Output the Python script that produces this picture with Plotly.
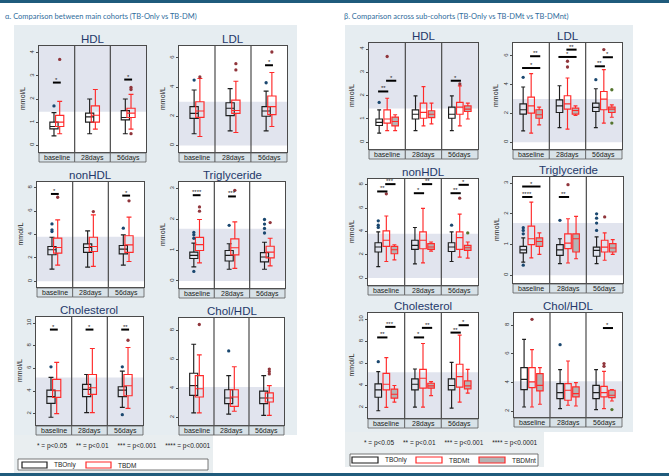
import plotly.graph_objects as go

W, H = 669, 476
TIMES = ["baseline", "28days", "56days"]
GROUPS_A = ["TBOnly", "TBDM"]
GROUPS_B = ["TBOnly", "TBDMt", "TBDMnt"]

# ---- box statistics: per timepoint (lower whisker, q1, median, q3, upper whisker)
A_HDL = {"TBOnly": [(0.41, 0.71, 0.81, 1.00, 1.41), (0.50, 1.00, 1.23, 1.39, 2.00), (0.50, 1.10, 1.20, 1.50, 2.00)],
         "TBDM":   [(0.50, 0.81, 1.00, 1.29, 1.90), (0.70, 1.00, 1.30, 1.70, 2.41), (0.70, 1.20, 1.39, 1.60, 2.20)]}
A_HDL_OUT = {"TBOnly": [[1.70], [], []], "TBDM": [[3.71], [], [2.50, 2.41, 0.50]]}
A_HDL_SIG = [(0, 0, 1, 2.71, "*"), (2, 0, 1, 2.84, "*")]

A_LDL = {"TBOnly": [(0.80, 1.86, 2.20, 2.66, 3.80), (1.00, 2.05, 2.55, 2.93, 3.90), (1.00, 2.00, 2.36, 2.66, 3.73)],
         "TBDM":   [(0.61, 1.93, 2.36, 3.00, 4.59), (0.89, 2.20, 2.40, 3.11, 4.40), (1.30, 2.11, 2.66, 3.39, 5.00)]}
A_LDL_OUT = {"TBOnly": [[4.48], [], [4.30]], "TBDM": [[4.70], [5.18, 5.61], [6.41]]}
A_LDL_SIG = [(2, 0, 1, 5.50, "*")]

A_NONHDL = {"TBOnly": [(1.05, 2.27, 2.70, 2.98, 3.77), (1.22, 2.47, 2.89, 3.20, 4.31), (1.39, 2.35, 2.75, 3.06, 3.97)],
            "TBDM":   [(1.39, 2.41, 2.89, 3.69, 5.25), (1.28, 2.55, 2.98, 3.77, 5.67), (1.70, 2.47, 3.12, 3.89, 5.48)]}
A_NONHDL_OUT = {"TBOnly": [[4.25, 4.40, 4.90], [], [4.54]], "TBDM": [[7.18], [5.96], [6.87]]}
A_NONHDL_SIG = [(0, 0, 1, 7.46, "*"), (2, 0, 1, 7.32, "*")]

A_TRIG = {"TBOnly": [(0.46, 0.73, 0.83, 0.94, 1.23), (0.38, 0.65, 0.83, 0.99, 1.21), (0.38, 0.62, 0.78, 0.92, 1.26)],
          "TBDM":   [(0.59, 0.99, 1.18, 1.42, 2.00), (0.41, 0.85, 1.08, 1.37, 1.92), (0.49, 0.75, 0.94, 1.13, 1.39)]}
A_TRIG_OUT = {"TBOnly": [[0.31, 1.39, 1.50, 1.58], [1.81], [1.56, 1.71, 1.85, 2.00]], "TBDM": [[2.27, 2.41], [2.95], [1.90]]}
A_TRIG_SIG = [(0, 0, 1, 2.79, "****"), (1, 0, 1, 2.75, "***")]

A_CHOL = {"TBOnly": [(1.68, 2.91, 3.50, 4.08, 5.20), (2.09, 3.50, 4.14, 4.58, 5.46), (2.56, 3.50, 4.08, 4.38, 5.75)],
          "TBDM":   [(2.00, 3.44, 4.02, 5.02, 6.52), (2.09, 3.70, 4.29, 5.46, 7.75), (2.47, 3.58, 4.46, 5.46, 7.84)]}
A_CHOL_OUT = {"TBOnly": [[6.13], [], [6.13, 1.91]], "TBDM": [[], [], [8.48]]}
A_CHOL_SIG = [(0, 0, 1, 9.42, "*"), (1, 0, 1, 9.42, "*"), (2, 0, 1, 9.42, "**")]

A_CHOLHDL = {"TBOnly": [(2.32, 3.52, 4.20, 5.05, 7.05), (2.23, 2.95, 3.34, 3.91, 4.89), (2.14, 2.95, 3.34, 3.82, 4.89)],
             "TBDM":   [(2.32, 3.41, 3.98, 4.89, 6.32), (2.43, 2.77, 3.41, 3.91, 5.50), (2.14, 3.07, 3.34, 3.70, 4.20)]}
A_CHOLHDL_OUT = {"TBOnly": [[], [6.59], []], "TBDM": [[8.41], [], [5.00, 5.17, 5.34]]}
A_CHOLHDL_SIG = []

B_HDL = {"TBOnly": [(0.39, 0.72, 0.85, 1.00, 1.39), (0.50, 1.00, 1.20, 1.39, 1.99), (0.50, 1.03, 1.20, 1.51, 1.99)],
         "TBDMt":  [(0.50, 0.82, 1.00, 1.39, 1.89), (0.70, 1.03, 1.28, 1.68, 2.39), (0.70, 1.20, 1.51, 1.71, 2.42)],
         "TBDMnt": [(0.50, 0.70, 0.89, 1.08, 1.18), (0.79, 1.06, 1.20, 1.35, 1.68), (1.00, 1.32, 1.42, 1.56, 1.68)]}
B_HDL_OUT = {"TBOnly": [[1.71], [], []], "TBDMt": [[3.68], [], [2.50]], "TBDMnt": [[], [], []]}
B_HDL_SIG = [(0, 0, 1, 2.18, "**"), (0, 1, 2, 2.64, "*"), (2, 0, 1, 2.64, "*")]

B_LDL = {"TBOnly": [(0.79, 1.95, 2.26, 2.67, 3.84), (1.02, 2.07, 2.53, 2.95, 3.93), (1.02, 2.14, 2.42, 2.72, 3.72)],
         "TBDMt":  [(0.63, 2.02, 2.53, 3.14, 4.77), (0.91, 2.30, 2.67, 3.23, 4.47), (1.33, 2.26, 3.00, 3.53, 5.05)],
         "TBDMnt": [(1.21, 1.67, 1.91, 2.26, 2.44), (1.86, 1.95, 2.21, 2.37, 2.53), (1.74, 2.07, 2.30, 2.44, 2.60)]}
B_LDL_OUT = {"TBOnly": [[4.51], [], [4.35]], "TBDMt": [[], [5.23, 5.63], [6.44]], "TBDMnt": [[], [], [1.33, 3.65]]}
B_LDL_SIG = [(0, 0, 2, 5.16, "*"), (0, 1, 2, 5.98, "**"), (1, 0, 2, 5.93, "*"), (1, 1, 2, 6.44, "**"),
             (2, 0, 1, 5.28, "**"), (2, 1, 2, 5.91, "*")]

B_NONHDL = {"TBOnly": [(0.98, 2.23, 2.66, 3.03, 3.96), (1.21, 2.46, 2.80, 3.24, 4.34), (1.42, 2.28, 2.66, 3.03, 3.96)],
            "TBDMt":  [(1.42, 2.72, 3.24, 4.05, 5.32), (1.30, 2.51, 3.24, 3.96, 5.98), (1.79, 2.46, 3.47, 3.96, 5.49)],
            "TBDMnt": [(1.56, 2.08, 2.43, 2.72, 2.86), (2.31, 2.46, 2.66, 2.95, 3.09), (1.71, 2.37, 2.60, 2.80, 3.09)]}
B_NONHDL_OUT = {"TBOnly": [[4.34, 4.54, 4.91], [], [4.54]], "TBDMt": [[7.23], [], [6.85]], "TBDMnt": [[], [], [3.87]]}
B_NONHDL_SIG = [(0, 0, 1, 7.43, "**"), (0, 1, 2, 8.06, "***"), (1, 0, 1, 7.28, "*"), (1, 1, 2, 8.06, "**"),
                (2, 0, 1, 7.28, "**"), (2, 1, 2, 8.00, "*")]

B_TRIG = {"TBOnly": [(0.43, 0.73, 0.83, 0.94, 1.22), (0.38, 0.65, 0.83, 1.00, 1.19), (0.38, 0.62, 0.81, 0.92, 1.25)],
          "TBDMt":  [(0.57, 1.00, 1.19, 1.60, 2.38), (0.40, 0.87, 1.05, 1.35, 1.84), (0.49, 0.76, 0.92, 1.14, 1.38)],
          "TBDMnt": [(0.68, 0.94, 1.10, 1.22, 1.38), (0.54, 0.76, 1.19, 1.35, 1.92), (0.68, 0.76, 0.89, 1.03, 1.16)]}
B_TRIG_OUT = {"TBOnly": [[0.33, 1.35, 1.46, 1.55], [1.79], [1.46, 1.70, 1.86, 2.00]], "TBDMt": [[], [2.95], [1.90]],
              "TBDMnt": [[], [], []]}
B_TRIG_SIG = [(0, 0, 1, 2.55, "****"), (0, 0, 2, 2.89, "*"), (1, 0, 1, 2.55, "**")]

B_CHOL = {"TBOnly": [(1.70, 2.93, 3.60, 4.14, 5.25), (2.03, 3.60, 4.11, 4.59, 5.49), (1.94, 3.60, 3.99, 4.59, 6.10)],
          "TBDMt":  [(2.00, 3.60, 4.11, 5.10, 6.52), (2.03, 3.75, 4.65, 5.46, 7.81), (2.48, 3.84, 4.80, 5.92, 8.57)],
          "TBDMnt": [(2.48, 2.84, 3.20, 3.66, 3.99), (3.08, 3.75, 3.96, 4.20, 4.35), (3.30, 3.69, 3.96, 4.41, 5.46)]}
B_CHOL_OUT = {"TBOnly": [[6.16], [], []], "TBDMt": [[], [], []], "TBDMnt": [[], [], []]}
B_CHOL_SIG = [(0, 0, 1, 8.36, "**"), (0, 1, 2, 9.32, "***"), (1, 0, 1, 8.36, "*"), (1, 1, 2, 9.23, "**"),
              (2, 0, 1, 8.80, "**"), (2, 1, 2, 9.47, "*")]

B_CHOLHDL = {"TBOnly": [(2.30, 3.51, 4.23, 5.05, 7.02), (2.19, 2.88, 3.30, 3.93, 4.91), (2.12, 2.88, 3.30, 3.81, 4.91)],
             "TBDMt":  [(2.30, 3.65, 4.05, 5.05, 6.30), (2.42, 2.77, 3.47, 3.93, 5.51), (2.19, 3.00, 3.30, 3.74, 4.79)],
             "TBDMnt": [(2.49, 3.42, 3.81, 4.63, 5.05), (2.37, 3.00, 3.23, 3.70, 4.00), (2.72, 2.95, 3.12, 3.47, 3.51)]}
B_CHOLHDL_OUT = {"TBOnly": [[], [6.65], []], "TBDMt": [[8.42], [], [5.14, 5.33]], "TBDMnt": [[], [], [2.12]]}
B_CHOLHDL_SIG = [(2, 1, 2, 7.81, "*")]

# reference (shaded) ranges
REF_HDL = (1.45, 99)
REF_LDL = (0, 3.0)
REF_NONHDL = (0, 3.8)
REF_TRIG = (0, 1.7)
REF_CHOL = (0, 5.2)
REF_CHOLHDL = (0, 4.1)

PVAL_TEXT = "* = p<0.05     ** = p<0.01     *** = p<0.001     **** = p<0.0001"
SECTION_A = "α. Comparison between main cohorts (TB-Only vs TB-DM)"
SECTION_B = "β. Comparison across sub-cohorts (TB-Only vs TB-DMt vs TB-DMnt)"

# ---- styling
LINE = {"TBOnly": "#1e1e1e", "TBDM": "#ff2a2a", "TBDMt": "#ff2a2a", "TBDMnt": "#ff2a2a"}
FILL = {"TBOnly": "rgba(255,255,255,0)", "TBDM": "rgba(255,255,255,0)", "TBDMt": "rgba(255,255,255,0)",
        "TBDMnt": "#b4b4b4"}
OUTC = {"TBOnly": "#1a476f", "TBDM": "#90353b", "TBDMt": "#90353b", "TBDMnt": "#55752f"}
SPREAD = {2: 0.16, 3: 0.22}      # group centre offset (in facet units)
BOXW = {2: 0.23, 3: 0.18}        # box width (in facet units)
FONT = "Liberation Sans, Arial, sans-serif"
AXC = "#4a4a4a"
BAND = "#e1e4ee"
BG = "#e6edf1"
TITLEC = "#24386a"

# panel list: (title, stats, outliers, sigs, groups, y range, y ticks, ref band, pixel box x0,x1,y0,y1, y title)
PANELS = [
    ("HDL", A_HDL, A_HDL_OUT, A_HDL_SIG, GROUPS_A, [-0.29, 4.29], [0, 1, 2, 3, 4], REF_HDL, (39, 146, 46, 152), True),
    ("LDL", A_LDL, A_LDL_OUT, A_LDL_SIG, GROUPS_A, [-0.45, 6.82], [0, 2, 4, 6], REF_LDL, (179, 287, 46, 152), True),
    ("nonHDL", A_NONHDL, A_NONHDL_OUT, A_NONHDL_SIG, GROUPS_A, [-0.48, 8.48], [0, 2, 4, 6, 8], REF_NONHDL, (37, 144, 182, 287), True),
    ("Triglyceride", A_TRIG, A_TRIG_OUT, A_TRIG_SIG, GROUPS_A, [-0.23, 3.22], [0, 1, 2, 3], REF_TRIG, (179, 285, 182, 288), True),
    ("Cholesterol", A_CHOL, A_CHOL_OUT, A_CHOL_SIG, GROUPS_A, [1.0, 10.53], [2, 4, 6, 8, 10], REF_CHOL, (36, 143, 317, 425), True),
    ("Chol/HDL", A_CHOLHDL, A_CHOLHDL_OUT, A_CHOLHDL_SIG, GROUPS_A, [1.48, 8.86], [2, 4, 6, 8], REF_CHOLHDL, (179, 284, 318, 425), False),
    ("HDL", B_HDL, B_HDL_OUT, B_HDL_SIG, GROUPS_B, [-0.29, 4.26], [0, 1, 2, 3, 4], REF_HDL, (369, 478, 43, 149), True),
    ("LDL", B_LDL, B_LDL_OUT, B_LDL_SIG, GROUPS_B, [-0.47, 6.9], [0, 2, 4, 6], REF_LDL, (513, 622, 43, 149), True),
    ("nonHDL", B_NONHDL, B_NONHDL_OUT, B_NONHDL_SIG, GROUPS_B, [-0.6, 8.5], [0, 2, 4, 6, 8], REF_NONHDL, (368, 478, 179, 285), True),
    ("Triglyceride", B_TRIG, B_TRIG_OUT, B_TRIG_SIG, GROUPS_B, [-0.25, 3.2], [0, 1, 2, 3], REF_TRIG, (513, 623, 177, 283), True),
    ("Cholesterol", B_CHOL, B_CHOL_OUT, B_CHOL_SIG, GROUPS_B, [1.04, 10.58], [2, 4, 6, 8, 10], REF_CHOL, (368, 478, 313, 418), True),
    ("Chol/HDL", B_CHOLHDL, B_CHOLHDL_OUT, B_CHOLHDL_SIG, GROUPS_B, [1.6, 8.86], [2, 4, 6, 8], REF_CHOLHDL, (514, 622, 313, 417), False),
]


def offsets(n):
    return [SPREAD[n] * (k - (n - 1) / 2) for k in range(n)]


fig = go.Figure()
shapes = []
anns = []
layout = {}


def prect(x0, y0, x1, y1, **kw):
    d = dict(type="rect", xref="paper", yref="paper", x0=x0 / W, x1=x1 / W, y0=1 - y1 / H, y1=1 - y0 / H)
    d.update(kw)
    shapes.append(d)


def ptext(x, y, text, size=7, color="#222", family=FONT, **kw):
    d = dict(x=x / W, y=1 - y / H, xref="paper", yref="paper", text=text, showarrow=False,
             xanchor="center", yanchor="middle", font=dict(family=family, size=size, color=color))
    d.update(kw)
    anns.append(d)


# page decorations
prect(0, 0, W, 3, fillcolor="#1f5b7c", line=dict(width=0), layer="below")
prect(0, 473, W, H, fillcolor="#1f5b7c", line=dict(width=0), layer="below")
prect(14, 25, 297, 435, fillcolor=BG, line=dict(width=0), layer="below")
prect(14, 435, 213, 473, fillcolor="#e9eef0", line=dict(width=0), layer="below")
prect(345, 25, 633, 432, fillcolor=BG, line=dict(width=0), layer="below")
prect(345, 432, 544, 467, fillcolor="#e9eef0", line=dict(width=0), layer="below")
ptext(3, 17, SECTION_A, size=7.5, color="#2f6c9c", family="Lato", xanchor="left")
ptext(342, 17, SECTION_B, size=7.5, color="#2f6c9c", family="Lato", xanchor="left")

for i, (title, stats, outs, sigs, groups, yr, yt, ref, box, ytitle) in enumerate(PANELS, start=1):
    sfx = "" if i == 1 else str(i)
    x0, x1, y0, y1 = box
    n = len(groups)
    off = offsets(n)
    layout["xaxis" + sfx] = dict(domain=[x0 / W, x1 / W], anchor="y" + sfx, range=[-0.5, 2.5],
                                 showticklabels=False, ticks="", showgrid=False, zeroline=False,
                                 showline=True, mirror=True, linecolor=AXC, linewidth=1)
    layout["yaxis" + sfx] = dict(domain=[1 - y1 / H, 1 - y0 / H], anchor="x" + sfx, range=yr,
                                 tickvals=yt, ticks="outside", ticklen=2, tickcolor=AXC, tickangle=-90,
                                 tickfont=dict(family=FONT, size=6, color="#333"),
                                 showgrid=False, zeroline=False, showline=True, mirror=True,
                                 linecolor=AXC, linewidth=1)
    # white plot region + reference band
    prect(x0, y0, x1, y1, fillcolor="white", line=dict(width=0), layer="below")
    shapes.append(dict(type="rect", xref="x" + sfx + " domain", yref="y" + sfx, x0=0, x1=1,
                       y0=max(ref[0], yr[0]), y1=min(ref[1], yr[1]), fillcolor=BAND,
                       line=dict(width=0), layer="below"))
    # facet dividers
    for xd in (0.5, 1.5):
        shapes.append(dict(type="line", xref="x" + sfx, yref="y" + sfx + " domain", x0=xd, x1=xd,
                           y0=0, y1=1, line=dict(color=AXC, width=1.2)))
    # strips
    w = (x1 - x0) / 3
    for k, t in enumerate(TIMES):
        prect(x0 + k * w, y1 + 1, x0 + (k + 1) * w, y1 + 10, fillcolor="#d8e2e8",
              line=dict(color="#5c5c5c", width=0.8), layer="above")
        ptext(x0 + (k + 0.5) * w, y1 + 5.7, t, size=7, color="#222")
    # titles
    ptext((x0 + x1) / 2, y0 - 7, title, size=11.5, color=TITLEC)
    if ytitle:
        ptext(x0 - 17, (y0 + y1) / 2, "mmol/L", size=7, color="#222", textangle=-90)
    # boxes + outliers
    for gi, g in enumerate(groups):
        st = stats[g]
        pos = [ti + off[gi] for ti in range(len(TIMES))]
        fig.add_trace(go.Box(
            x=pos, orientation="v", width=BOXW[n],
            lowerfence=[s[0] for s in st], q1=[s[1] for s in st], median=[s[2] for s in st],
            q3=[s[3] for s in st], upperfence=[s[4] for s in st],
            line=dict(color=LINE[g], width=1.15), fillcolor=FILL[g], whiskerwidth=0.6,
            name=g, showlegend=False, hoverinfo="skip",
            xaxis="x" + sfx, yaxis="y" + sfx))
        ox, oy = [], []
        for ti, vals in enumerate(outs[g]):
            for v in vals:
                ox.append(pos[ti])
                oy.append(v)
        if ox:
            fig.add_trace(go.Scatter(x=ox, y=oy, mode="markers", showlegend=False, hoverinfo="skip",
                                     marker=dict(color=OUTC[g], size=3.3, line=dict(width=0)),
                                     xaxis="x" + sfx, yaxis="y" + sfx))
    # significance bars
    for (t, ga, gb, yv, lab) in sigs:
        xa, xb = t + off[ga], t + off[gb]
        shapes.append(dict(type="line", xref="x" + sfx, yref="y" + sfx, x0=xa - 0.03, x1=xb + 0.03,
                           y0=yv, y1=yv, line=dict(color="black", width=2)))
        anns.append(dict(x=(xa + xb) / 2, y=yv, xref="x" + sfx, yref="y" + sfx, text=lab, showarrow=False,
                         xanchor="center", yanchor="middle", yshift=3,
                         font=dict(family=FONT, size=6, color="#222")))

# p-value keys
ptext(123, 446, PVAL_TEXT, size=6.5)
ptext(450, 443, PVAL_TEXT, size=6.5)

# legend (alpha)
prect(18, 459, 208, 470, fillcolor="white", line=dict(color="#555", width=0.8), layer="above")
LEG_A = [("TBOnly", 22), ("TBDM", 86)]
for g, lx in LEG_A:
    prect(lx, 462, lx + 25, 468, fillcolor="white", line=dict(color=LINE[g], width=1.2), layer="above")
    ptext(lx + 30, 465, g, size=6.5, xanchor="left")
# legend (beta)
prect(350, 454, 538, 466, fillcolor="white", line=dict(color="#555", width=0.8), layer="above")
LEG_B = [("TBOnly", 352), ("TBDMt", 416), ("TBDMnt", 479)]
for g, lx in LEG_B:
    fc = "white" if g != "TBDMnt" else FILL[g]
    prect(lx, 457, lx + 26, 463, fillcolor=fc, line=dict(color=LINE[g], width=1.2), layer="above")
    ptext(lx + 31, 460, g, size=6.5, xanchor="left")

fig.update_layout(width=W, height=H, margin=dict(l=0, r=0, t=0, b=0, pad=0),
                  paper_bgcolor="white", plot_bgcolor="white", boxmode="overlay",
                  showlegend=False, shapes=shapes, annotations=anns,
                  font=dict(family=FONT), **layout)
fig.write_html("out.html")
